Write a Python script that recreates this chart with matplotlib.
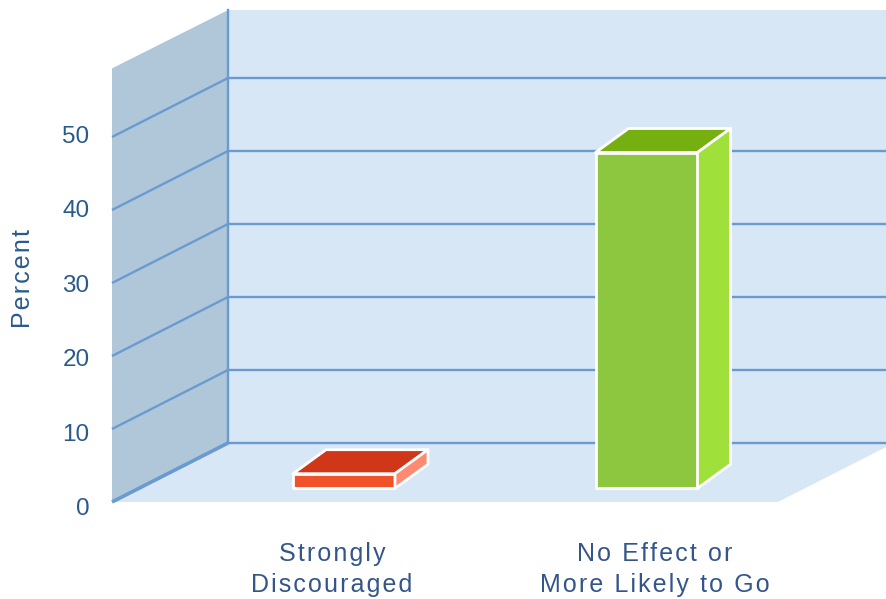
import numpy as np
import matplotlib
matplotlib.use('Agg')
import matplotlib.pyplot as plt

# chart data
categories = ['Strongly\nDiscouraged', 'No Effect or\nMore Likely to Go']
percents = [2, 46]
y_ticks = [0, 10, 20, 30, 40, 50]

# colours per bar: front, top, side
front_colors = ['#f0522a', '#8dc63f']
top_colors = ['#d03718', '#76b010']
side_colors = ['#ff8a72', '#9fe03a']

wall_color = '#d8e7f6'
side_wall_color = '#b0c7da'
grid_color = '#6a9bd0'
tick_color = '#2a5a8c'
label_color = '#34558b'


def spaced(s):
    # letter spacing through hair spaces
    return '\n'.join('\u200a'.join(line) for line in s.split('\n'))


# the axes fill the figure: y in percent (7.3 px per point), x in category units
px_y = 7.3
px_x = 302.5
fig = plt.figure(figsize=(8.86, 5.99), dpi=100)
ax = fig.add_axes([0, 0, 1, 1])
ax.set_xlim(-344 / px_x, (886 - 344) / px_x)
ax.set_ylim(-97 / px_y, 502 / px_y)
ax.axis('off')

# room geometry
left = (112 - 344) / px_x
depth_x = 116 / px_x
depth_y = 59 / px_y
right = (778 - 344) / px_x
y_top = 59.4
back_top = 59.3

# back wall, side wall, floor
ax.fill([left + depth_x, 3, 3, left + depth_x],
        [depth_y, depth_y, depth_y + back_top, depth_y + back_top], color=wall_color, lw=0)
ax.fill([left, left + depth_x, left + depth_x, left],
        [0, depth_y, depth_y + back_top, y_top], color=side_wall_color, lw=0)
ax.fill([left, right, right + depth_x, left + depth_x],
        [0, 0, depth_y, depth_y], color=wall_color, lw=0)

# grid lines on the side wall and back wall
for v in y_ticks:
    lw = 2.6 if v == 0 else 1.7
    ax.plot([left, left + depth_x], [v, v + depth_y], color=grid_color, lw=lw,
            solid_capstyle='butt')
    ax.plot([left + depth_x, 3], [v + depth_y, v + depth_y], color=grid_color, lw=1.7)
ax.plot([left + depth_x, left + depth_x], [depth_y, depth_y + back_top], color=grid_color, lw=1.7)

# bars stand a little forward from the back wall, raised off the front edge
x_pos = np.arange(len(categories))
bar_w = 102 / px_x
base = 13.7 / px_y
bar_dx = 33 / px_x
bar_dy = 24 / px_y
edge = dict(edgecolor='white', linewidth=2, joinstyle='round')

ax.bar(x_pos, percents, width=bar_w, bottom=base, color=front_colors, zorder=3, **edge)
for x, p, c_top, c_side in zip(x_pos, percents, top_colors, side_colors):
    x0, x1 = x - bar_w / 2, x + bar_w / 2
    y0, y1 = base, base + p
    ax.fill([x0, x1, x1 + bar_dx, x0 + bar_dx],
            [y1, y1, y1 + bar_dy, y1 + bar_dy], facecolor=c_top, zorder=3, **edge)
    ax.fill([x1, x1 + bar_dx, x1 + bar_dx, x1],
            [y0, y0 + bar_dy, y1 + bar_dy, y1], facecolor=c_side, zorder=3, **edge)

# tick labels sit on a slightly wider spacing than the grid
for v in y_ticks:
    ax.text((89.5 - 344) / px_x, v * 1.02 - 4.5 / px_y, str(v), ha='right', va='center_baseline',
            color=tick_color, fontsize=17.5, family='Liberation Sans')
ax.text((23 - 344) / px_x, (502 - 279) / px_y, spaced('Percent'), rotation=90,
        ha='center', va='center', color=tick_color, fontsize=18, family='Liberation Sans')

# category labels
label_offsets = [-12 / px_x, 8 / px_x]
for x, name, off in zip(x_pos, categories, label_offsets):
    ax.text(x + off, (502 - 569.5) / px_y, spaced(name), ha='center', va='center',
            color=label_color, fontsize=18, family='Liberation Sans', linespacing=1.38)

fig.savefig('out.png', dpi=100)
